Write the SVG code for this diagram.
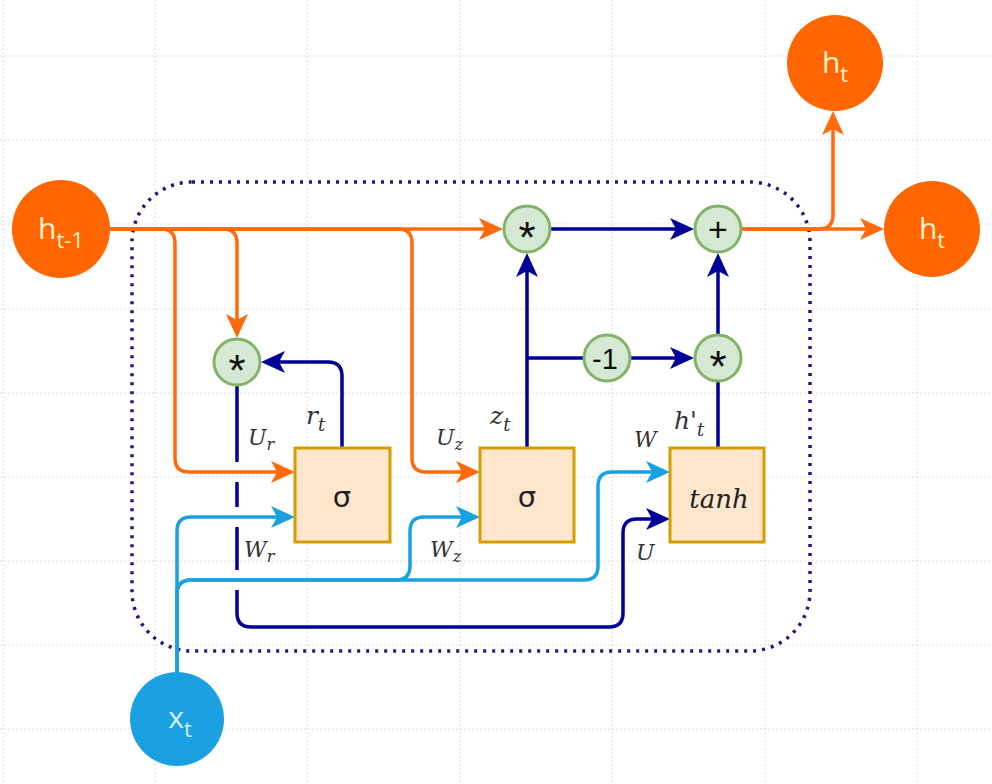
<svg xmlns="http://www.w3.org/2000/svg" width="992" height="784" viewBox="0 0 992 784">
<style>
.grid line{stroke:#dcdcdc;stroke-width:1;stroke-dasharray:2 2}
.e{fill:none;stroke-width:3.5;stroke-linejoin:round}
.or{stroke:#FF6A0A}
.cy{stroke:#1BA1E2}
.nv{stroke:#000099}
.op{fill:#d5e8d4;stroke:#82b366;stroke-width:3}
.opt{font-family:"Liberation Sans",Arial,sans-serif;fill:#111;text-anchor:middle}
.box{fill:#ffe6cc;stroke:#d79b00;stroke-width:3}
.lbl{font-family:"DejaVu Serif",serif;font-style:italic;font-size:22px;fill:#333}
.big{font-size:25px}
.io{font-family:"Open Sans","Noto Sans",sans-serif;text-anchor:middle;font-size:30px}
</style>
<defs>
<marker id="aO" markerUnits="userSpaceOnUse" markerWidth="24" markerHeight="22" refX="18" refY="11" orient="auto"><path d="M0,0 L24,11 L0,22 L6,11 z" fill="#FF6A0A"/></marker>
<marker id="aC" markerUnits="userSpaceOnUse" markerWidth="24" markerHeight="22" refX="18" refY="11" orient="auto"><path d="M0,0 L24,11 L0,22 L6,11 z" fill="#1BA1E2"/></marker>
<marker id="aN" markerUnits="userSpaceOnUse" markerWidth="24" markerHeight="22" refX="18" refY="11" orient="auto"><path d="M0,0 L24,11 L0,22 L6,11 z" fill="#000099"/></marker>
</defs>
<rect width="992" height="784" fill="#ffffff"/>
<g class="grid">
<line x1="3" y1="0" x2="3" y2="784"/><line x1="155" y1="0" x2="155" y2="784"/><line x1="307" y1="0" x2="307" y2="784"/><line x1="460" y1="0" x2="460" y2="784"/><line x1="612" y1="0" x2="612" y2="784"/><line x1="765" y1="0" x2="765" y2="784"/><line x1="917" y1="0" x2="917" y2="784"/>
<line x1="0" y1="56" x2="992" y2="56"/><line x1="0" y1="140" x2="992" y2="140"/><line x1="0" y1="224" x2="992" y2="224"/><line x1="0" y1="309" x2="992" y2="309"/><line x1="0" y1="393" x2="992" y2="393"/><line x1="0" y1="477" x2="992" y2="477"/><line x1="0" y1="561" x2="992" y2="561"/><line x1="0" y1="645" x2="992" y2="645"/><line x1="0" y1="729" x2="992" y2="729"/>
</g>
<g id="cell-boundary">
<rect x="132" y="182" width="678" height="469" rx="60" ry="60" fill="none" stroke="#1a1a80" stroke-width="3.5" stroke-dasharray="3 6"/>
</g>
<g id="connectors">
<path class="e or" d="M110,229 H497" marker-end="url(#aO)"/>
<path class="e or" d="M110,229 H161 Q175,229 175,243 V458 Q175,472 189,472 H289" marker-end="url(#aO)"/>
<path class="e or" d="M110,229 H223 Q237,229 237,243 V332" marker-end="url(#aO)"/>
<path class="e or" d="M110,229 H398 Q412,229 412,243 V458 Q412,472 426,472 H474" marker-end="url(#aO)"/>
<path class="e cy" d="M177,672 V531 Q177,517 191,517 H289" marker-end="url(#aC)"/>
<path class="e cy" d="M177,672 V594 Q177,580 191,580 H396 Q410,580 410,566 V531 Q410,517 424,517 H474" marker-end="url(#aC)"/>
<path class="e cy" d="M177,672 V594 Q177,580 191,580 H584 Q598,580 598,566 V486 Q598,472 612,472 H664" marker-end="url(#aC)"/>
<path class="e nv" d="M342,448 V376 Q342,362 328,362 H267" marker-end="url(#aN)"/>
<path class="e nv" d="M237,386 V462 M237,482 V507 M237,527 V570 M237,590 V613 Q237,627 251,627 H609 Q623,627 623,613 V533 Q623,519 637,519 H664" marker-end="url(#aN)"/>
<path class="e nv" d="M527,448 V259" marker-end="url(#aN)"/>
<path class="e nv" d="M527,358 H583"/>
<path class="e nv" d="M631,358 H688" marker-end="url(#aN)"/>
<path class="e nv" d="M551,229 H688" marker-end="url(#aN)"/>
<path class="e nv" d="M718,448 V382"/>
<path class="e nv" d="M718,334 V259" marker-end="url(#aN)"/>
<path class="e or" d="M742,229 H878" marker-end="url(#aO)"/>
<path class="e or" d="M742,229 H819 Q833,229 833,215 V117" marker-end="url(#aO)"/>
</g>
<g id="h_prev">
<circle cx="61" cy="229" r="49" fill="#FF6600"/>
<text class="io" x="61" y="239" fill="#FFF2CC">h<tspan font-size="22" dy="9">t-1</tspan></text>
</g>
<g id="h_t_top">
<circle cx="835" cy="63" r="48" fill="#FF6600"/>
<text class="io" x="835" y="73" fill="#FFF2CC">h<tspan font-size="22" dy="9">t</tspan></text>
</g>
<g id="h_t_right">
<circle cx="932" cy="229" r="48" fill="#FF6600"/>
<text class="io" x="932" y="239" fill="#FFF2CC">h<tspan font-size="22" dy="9">t</tspan></text>
</g>
<g id="x_t">
<circle cx="177" cy="719" r="47" fill="#1BA1E2"/>
<text class="io" x="180" y="728" fill="#D6F1FF">x<tspan font-size="22" dy="9">t</tspan></text>
</g>
<g id="mul_r">
<circle class="op" cx="237" cy="362" r="23"/>
<text class="opt" x="237" y="386" font-size="44">*</text>
</g>
<g id="mul_z">
<circle class="op" cx="527" cy="229" r="23"/>
<text class="opt" x="527" y="253" font-size="44">*</text>
</g>
<g id="add">
<circle class="op" cx="718" cy="229" r="23"/>
<text class="opt" x="718" y="241" font-size="34">+</text>
</g>
<g id="neg1">
<circle class="op" cx="607" cy="358" r="23"/>
<text class="opt" x="605" y="369" font-size="29">-1</text>
</g>
<g id="mul_h">
<circle class="op" cx="718" cy="358" r="23"/>
<text class="opt" x="718" y="382" font-size="44">*</text>
</g>
<g id="sigma_r">
<rect class="box" x="295" y="448" width="95" height="94"/>
<text x="342" y="507" font-family="DejaVu Sans,sans-serif" font-size="29" text-anchor="middle" fill="#222">σ</text>
</g>
<g id="sigma_z">
<rect class="box" x="480" y="448" width="94" height="94"/>
<text x="527" y="507" font-family="DejaVu Sans,sans-serif" font-size="29" text-anchor="middle" fill="#222">σ</text>
</g>
<g id="tanh">
<rect class="box" x="670" y="448" width="94" height="94"/>
<text x="719" y="508" font-family="DejaVu Serif,serif" font-style="italic" font-size="26" text-anchor="middle" fill="#222">tanh</text>
</g>
<g id="labels">
<text class="lbl big" x="306" y="424">r<tspan font-size="18" dy="7">t</tspan></text>
<text class="lbl big" x="490" y="424">z<tspan font-size="18" dy="7">t</tspan></text>
<text class="lbl big" x="674" y="429">h'<tspan font-size="18" dy="7">t</tspan></text>
<text class="lbl" x="248" y="445">U<tspan font-size="16" dy="5">r</tspan></text>
<text class="lbl" x="436" y="445">U<tspan font-size="16" dy="5">z</tspan></text>
<text class="lbl" x="244" y="557">W<tspan font-size="16" dy="5">r</tspan></text>
<text class="lbl" x="430" y="557">W<tspan font-size="16" dy="5">z</tspan></text>
<text class="lbl" x="634" y="447">W</text>
<text class="lbl" x="636" y="560">U</text>
</g>
</svg>
